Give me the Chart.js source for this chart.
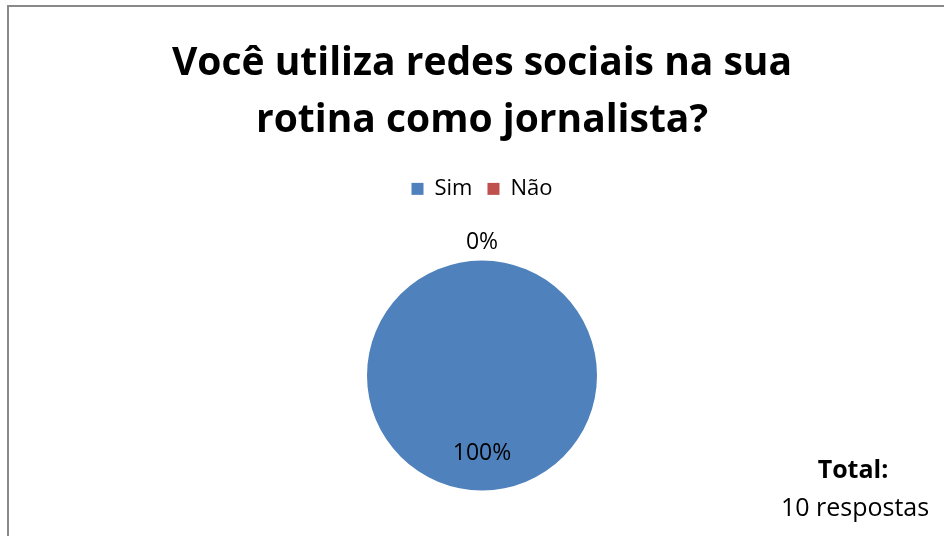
<!DOCTYPE html>
<html>
<head>
<meta charset="utf-8">
<script src="https://cdn.jsdelivr.net/npm/chart.js@4"></script>
<style>
  html, body { margin: 0; padding: 0; background: #fff; }
  #wrap { position: relative; width: 944px; height: 536px; overflow: hidden; }
  #frame { position: absolute; left: 7px; top: 5px; width: 1000px; height: 600px;
           border-left: 2px solid #898989; border-top: 2px solid #898989; }
  canvas { position: absolute; left: 0; top: 0; }
  .total { position: absolute; font-family: 'Open Sans', sans-serif; font-size: 25px; color: #000;
           text-align: center; width: 200px; line-height: 30px; }
</style>
</head>
<body>
<div id="wrap">
  <div id="frame"></div>
  <canvas id="pieChart" width="944" height="541"></canvas>
  <div class="total" style="left:753px; top:453px; font-weight:bold;">Total:</div>
  <div class="total" style="left:755px; top:491px;">10 respostas</div>
</div>
<script>
const titleLines = ['Você utiliza redes sociais na sua', 'rotina como jornalista?'];
const labels = ['Sim', 'Não'];
const values = [10, 0];
const colors = ['#4F81BD', '#C0504D'];

// percent labels: inside for big slices, just outside for empty ones
const pctLabels = {
    id: 'pctLabels',
    afterDatasetsDraw(chart) {
        const ctx = chart.ctx;
        const meta = chart.getDatasetMeta(0);
        const total = values.reduce((a, b) => a + b, 0);
        ctx.save();
        ctx.font = '23px "Open Sans", sans-serif';
        ctx.fillStyle = '#000';
        ctx.textAlign = 'center';
        ctx.textBaseline = 'middle';
        meta.data.forEach((arc, i) => {
            const p = arc.getProps(['x', 'y', 'startAngle', 'endAngle', 'outerRadius'], true);
            const pct = Math.round(values[i] / total * 100);
            const mid = (p.startAngle + p.endAngle) / 2;
            const r = pct === 0 ? p.outerRadius + 18 : p.outerRadius * 0.68;
            ctx.fillText(pct + '%', p.x + Math.cos(mid) * r, p.y + Math.sin(mid) * r);
        });
        ctx.restore();
    }
};

new Chart(document.getElementById('pieChart'), {
    type: 'pie',
    data: {
        labels: labels,
        datasets: [{
            data: values,
            backgroundColor: colors,
            borderWidth: 0,
            radius: 115
        }]
    },
    options: {
        responsive: false,
        animation: false,
        layout: { padding: { top: 0, bottom: 0, left: 20, right: 0 } },
        plugins: {
            title: {
                display: true,
                text: titleLines,
                color: '#000',
                font: { family: 'Open Sans', size: 39, weight: 'bold', lineHeight: 1.46 },
                padding: { top: 35, bottom: 14 }
            },
            legend: {
                position: 'top',
                labels: {
                    color: '#000',
                    font: { family: 'Open Sans', size: 22 },
                    boxWidth: 12,
                    boxHeight: 12,
                    padding: 15
                }
            },
            tooltip: { enabled: false }
        }
    },
    plugins: [pctLabels]
});
</script>
</body>
</html>
